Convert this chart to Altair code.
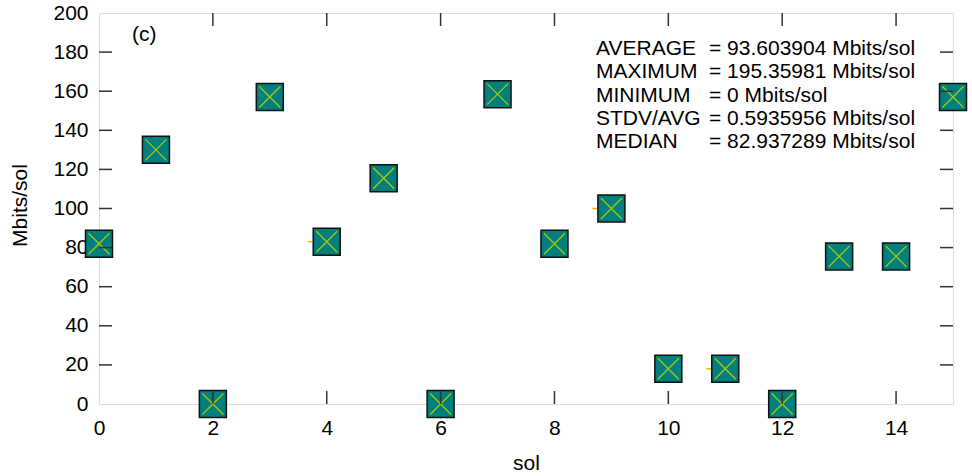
import altair as alt
import pandas as pd

# data
sols = list(range(16))
rates = [82, 130, 0, 157, 83, 115.5, 0, 158.5, 82, 100, 18, 18, 0, 75.5, 75.5, 157]
orange_sols = [4, 9, 11]
orange_rates = [83, 100, 18]
y_ticks = [20, 40, 60, 80, 100, 120, 140, 160, 180]
x_ticks = [2, 4, 6, 8, 10, 12, 14]
y_labels = [0, 20, 40, 60, 80, 100, 120, 140, 160, 180, 200]
x_labels = [0, 2, 4, 6, 8, 10, 12, 14]
stat_names = ["AVERAGE", "MAXIMUM", "MINIMUM", "STDV/AVG", "MEDIAN"]
stat_values = ["= 93.603904 Mbits/sol", "= 195.35981 Mbits/sol", "= 0 Mbits/sol",
               "= 0.5935956 Mbits/sol", "= 82.937289 Mbits/sol"]

W, H = 854, 391
FONT = "Liberation Sans"
FS = 21
TL = 13  # inward tick length

df = pd.DataFrame({"sol": sols, "rate": rates})
df_or = pd.DataFrame({"sol": orange_sols, "rate": orange_rates})
df_yt = pd.DataFrame({"v": y_ticks})
df_xt = pd.DataFrame({"v": x_ticks})
df_stats = pd.DataFrame({"name": stat_names, "val": stat_values, "i": list(range(len(stat_names)))})

xs = alt.Scale(domain=[0, 15], nice=False, zero=False)
ys = alt.Scale(domain=[0, 200], nice=False, zero=False)

xax = alt.Axis(values=x_labels, format="d", ticks=False, domain=False, grid=False,
               labelOverlap=False, labelPadding=13, labelFontSize=FS, labelFont=FONT,
               labelColor="black",
               title="sol", titleFontSize=FS, titleFont=FONT, titleFontWeight="normal",
               titleColor="black", titleBaseline="alphabetic", titleY=65, labelFlush=False)
yax = alt.Axis(values=y_labels, format="d", ticks=False, domain=False, grid=False,
               labelOverlap=False, labelPadding=11, labelFontSize=FS, labelFont=FONT,
               labelColor="black",
               title="Mbits/sol", titleFontSize=FS, titleFont=FONT, titleFontWeight="normal",
               titleColor="black", titleAngle=270, titleBaseline="alphabetic",
               titleX=-73, titleY=192, labelFlush=False)

X = lambda f: alt.X(f, scale=xs, axis=xax)
Y = lambda f: alt.Y(f, scale=ys, axis=yax)

orange = alt.Chart(df_or).mark_point(
    shape="M-1,0L-0.75,0", size=38 * 38, filled=False, stroke="#f0b400", strokeWidth=1.5, opacity=1
).encode(x=X("sol:Q"), y=Y("rate:Q"))

squares = alt.Chart(df).mark_point(
    shape="square", size=27 * 27, filled=True, fill="#007f7f", stroke="#111111",
    strokeWidth=1.5, opacity=1
).encode(x=X("sol:Q"), y=Y("rate:Q"))

crosses = alt.Chart(df).mark_point(
    shape="M-1,-1L1,1M-1,1L1,-1", size=21 * 21, filled=False, stroke="#a8c800",
    strokeWidth=1.3, opacity=1
).encode(x=X("sol:Q"), y=Y("rate:Q"))

tick_color = "#333333"
yt_left = alt.Chart(df_yt).mark_rule(color=tick_color, strokeWidth=1.5).encode(
    y=Y("v:Q"), x=alt.value(0), x2=alt.value(TL))
yt_right = alt.Chart(df_yt).mark_rule(color=tick_color, strokeWidth=1.5).encode(
    y=Y("v:Q"), x=alt.value(W - TL), x2=alt.value(W))
xt_bottom = alt.Chart(df_xt).mark_rule(color=tick_color, strokeWidth=1.5).encode(
    x=X("v:Q"), y=alt.value(H - TL), y2=alt.value(H))
xt_top = alt.Chart(df_xt).mark_rule(color=tick_color, strokeWidth=1.5).encode(
    x=X("v:Q"), y=alt.value(0), y2=alt.value(TL))

label_c = alt.Chart(pd.DataFrame({"t": ["(c)"]})).mark_text(
    font=FONT, fontSize=FS, align="left", baseline="alphabetic", color="black"
).encode(text="t:N", x=alt.value(33), y=alt.value(28))

stat_name_txt = alt.Chart(df_stats).transform_calculate(py="42 + datum.i * 23.3").mark_text(
    font=FONT, fontSize=FS, align="left", baseline="alphabetic", color="black"
).encode(text="name:N", x=alt.value(497), y=alt.Y("py:Q", scale=None, axis=None))

stat_val_txt = alt.Chart(df_stats).transform_calculate(py="42 + datum.i * 23.3").mark_text(
    font=FONT, fontSize=FS, align="left", baseline="alphabetic", color="black"
).encode(text="val:N", x=alt.value(610), y=alt.Y("py:Q", scale=None, axis=None))

chart = alt.layer(
    orange, squares, crosses, yt_left, yt_right, xt_bottom, xt_top,
    label_c, stat_name_txt, stat_val_txt
).properties(
    width=W, height=H,
    autosize=alt.AutoSizeParams(type="none"),
    padding={"left": 99, "top": 13, "right": 19, "bottom": 72},
    background="white",
).configure_view(
    stroke="black", strokeWidth=2
).configure_axis(
    labelOverlap=False
).configure(font=FONT)

chart.save("out.html", embed_options={"renderer": "svg", "actions": False})
